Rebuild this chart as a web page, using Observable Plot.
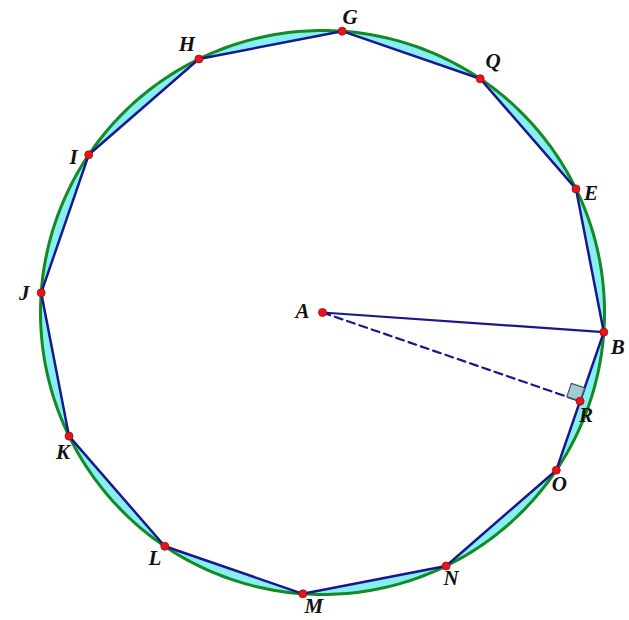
<!DOCTYPE html>
<html>
<head>
<meta charset="utf-8">
<script src="https://cdn.jsdelivr.net/npm/d3@7"></script>
<script src="https://cdn.jsdelivr.net/npm/@observablehq/plot@0.6"></script>
<style>
  html, body { margin: 0; padding: 0; background: #fff; }
  #chart svg { display: block; }
</style>
</head>
<body>
<div id="chart"></div>
<script>
// Data
const vertexNames  = ["B","E","Q","G","H","I","J","K","L","M","N","O"];
const vertexAngles = [-4, 26, 56, 86, 116, 146, 176, 206, 236, 266, 296, 326]; // degrees
const radius = 282;
const centerName = "A";
const footName = "R";

// label offsets (px)
const labelOffset = {
  A: [-20, -1], B: [14, 15], E: [15, 4], Q: [13, -17], G: [8, -14], H: [-12, -15],
  I: [-15, 2], J: [-17, 0], K: [-6, 16], L: [-10, 12], M: [11, 12], N: [5, 12],
  O: [3, 14], R: [6, 14]
};

const rad = d => d * Math.PI / 180;
const verts = vertexNames.map((n, i) => ({
  name: n,
  x: radius * Math.cos(rad(vertexAngles[i])),
  y: radius * Math.sin(rad(vertexAngles[i]))
}));
const A = {name: centerName, x: 0, y: 0};
const B = verts[0], O = verts[11];
const R = {name: footName, x: (B.x + O.x) / 2, y: (B.y + O.y) / 2};

const circle = d3.range(0, 361, 1).map(t => ({x: radius * Math.cos(rad(t)), y: radius * Math.sin(rad(t))}));
const polygon = [...verts, verts[0]];

// right-angle marker at R
const s = 14;
const lenRA = Math.hypot(A.x - R.x, A.y - R.y);
const u = {x: (A.x - R.x) / lenRA, y: (A.y - R.y) / lenRA};
const lenRB = Math.hypot(B.x - R.x, B.y - R.y);
const v = {x: (B.x - R.x) / lenRB, y: (B.y - R.y) / lenRB};
const square = [
  {x: R.x, y: R.y},
  {x: R.x + u.x * s, y: R.y + u.y * s},
  {x: R.x + u.x * s + v.x * s, y: R.y + u.y * s + v.y * s},
  {x: R.x + v.x * s, y: R.y + v.y * s},
  {x: R.x, y: R.y}
];

const points = [A, ...verts, R];
const labels = points.map(p => ({
  name: p.name,
  x: p.x + labelOffset[p.name][0],
  y: p.y - labelOffset[p.name][1]
}));

const chart = Plot.plot({
  width: 629,
  height: 620,
  margin: 0,
  x: {domain: [-322, 307], axis: null},
  y: {domain: [-308, 312], axis: null},
  marks: [
    Plot.line(circle, {x: "x", y: "y", fill: "#88eef4", stroke: "none"}),
    Plot.line(polygon, {x: "x", y: "y", fill: "white", stroke: "none"}),
    Plot.line(circle, {x: "x", y: "y", stroke: "#138a24", strokeWidth: 3}),
    Plot.line(polygon, {x: "x", y: "y", stroke: "#16188c", strokeWidth: 2.5}),
    Plot.line([A, B], {x: "x", y: "y", stroke: "#16188c", strokeWidth: 2.2}),
    Plot.line([A, R], {x: "x", y: "y", stroke: "#16188c", strokeWidth: 2.2, strokeDasharray: "8,5"}),
    Plot.line(square, {x: "x", y: "y", fill: "#a3cccc", stroke: "#4a5a6a", strokeWidth: 1.3}),
    Plot.dot(points, {x: "x", y: "y", r: 4, fill: "#e8141c", stroke: "#a00a0a", strokeWidth: 0.8}),
    Plot.text(labels, {x: "x", y: "y", text: "name", fontFamily: "Liberation Serif", fontWeight: "bold", fontStyle: "italic", fontSize: 21, fill: "#111"})
  ]
});
document.getElementById("chart").appendChild(chart);
</script>
</body>
</html>
